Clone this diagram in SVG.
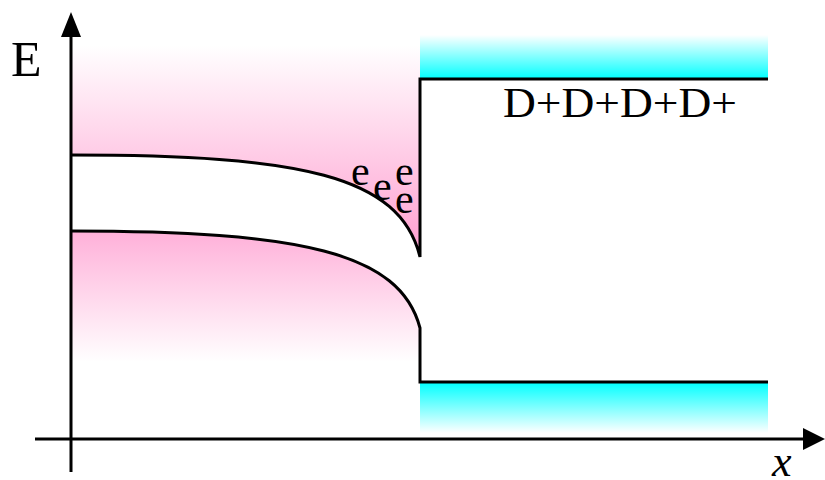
<svg xmlns="http://www.w3.org/2000/svg" width="825" height="480" viewBox="0 0 825 480">
  <defs>
    <linearGradient id="pinkUp" x1="0" y1="45" x2="0" y2="258" gradientUnits="userSpaceOnUse">
      <stop offset="0" stop-color="#ffffff"/>
      <stop offset="1" stop-color="#ff9ccf"/>
    </linearGradient>
    <linearGradient id="pinkLow" x1="0" y1="231" x2="0" y2="362" gradientUnits="userSpaceOnUse">
      <stop offset="0" stop-color="#ffb0d9"/>
      <stop offset="1" stop-color="#ffffff"/>
    </linearGradient>
    <linearGradient id="cyanUp" x1="0" y1="35" x2="0" y2="79" gradientUnits="userSpaceOnUse">
      <stop offset="0" stop-color="#ffffff"/>
      <stop offset="1" stop-color="#00ffff"/>
    </linearGradient>
    <linearGradient id="cyanLow" x1="0" y1="382" x2="0" y2="433" gradientUnits="userSpaceOnUse">
      <stop offset="0" stop-color="#00ffff"/>
      <stop offset="1" stop-color="#ffffff"/>
    </linearGradient>
  </defs>
  <style>
    .line { fill: none; stroke: #000; stroke-width: 3; }
  </style>
  <rect width="825" height="480" fill="#ffffff"/>

  <g id="fills">
    <path d="M71,40 L420,40 L420,257 C400,175 300,155 71,155 Z" fill="url(#pinkUp)"/>
    <path d="M71,231 C300,231 400,252 420,328 L420,362 L71,362 Z" fill="url(#pinkLow)"/>
    <rect x="420" y="35" width="348" height="44" fill="url(#cyanUp)"/>
    <rect x="420" y="382" width="348" height="51" fill="url(#cyanLow)"/>
  </g>

  <g id="bands">
    <path class="line" d="M71,155 C300,155 400,175 420,257 L420,79 L768,79"/>
    <path class="line" d="M71,231 C300,231 400,252 420,328 L420,382 L768,382"/>
  </g>

  <g id="axes">
    <line class="line" x1="71" y1="472" x2="71" y2="34"/>
    <polygon points="61,37 71,12 81,37" fill="#000"/>
    <line class="line" x1="35" y1="439" x2="806" y2="439"/>
    <polygon points="803,428 825,439 803,450" fill="#000"/>
  </g>

  <g id="labels" font-family="Liberation Serif" fill="#000">
    <text x="11" y="76" font-size="50">E</text>
    <text x="772" y="476" font-size="44" font-style="italic">x</text>
    <text x="503" y="117" font-size="43" textLength="234" lengthAdjust="spacingAndGlyphs">D+D+D+D+</text>
    <text x="351" y="185" font-size="42">e</text>
    <text x="373" y="200" font-size="42">e</text>
    <text x="395" y="185" font-size="42">e</text>
    <text x="395" y="213" font-size="42">e</text>
  </g>
</svg>
